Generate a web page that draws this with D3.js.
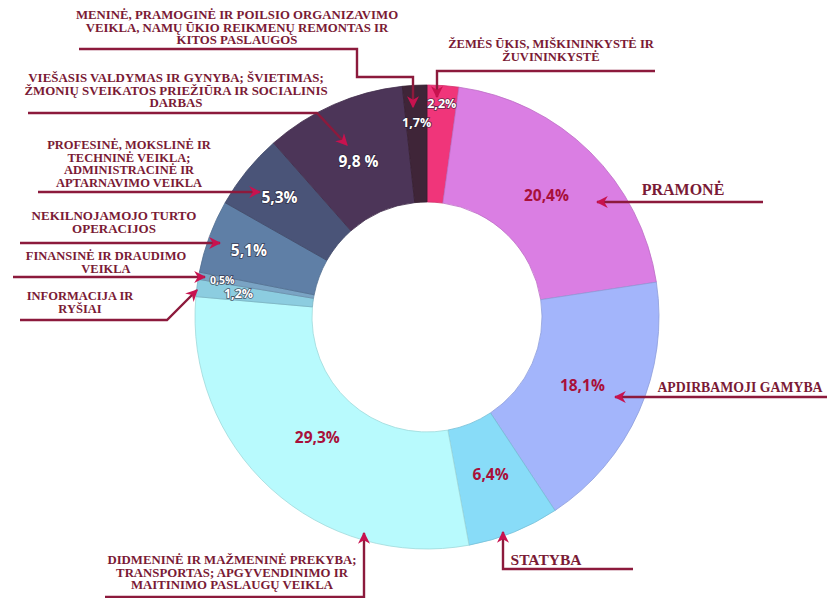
<!DOCTYPE html>
<html>
<head>
<meta charset="utf-8">
<script src="https://cdn.jsdelivr.net/npm/d3@7"></script>
<style>
  body { margin: 0; background: #fff; }
  .cat { font-family: "Liberation Serif", serif; font-weight: bold; fill: #7a1a35; }
  .pct { font-family: "Open Sans", sans-serif; font-weight: bold; }
</style>
</head>
<body>
<script>
var categories = [
  "ŽEMĖS ŪKIS, MIŠKININKYSTĖ IR|ŽUVININKYSTĖ",
  "PRAMONĖ",
  "APDIRBAMOJI GAMYBA",
  "STATYBA",
  "DIDMENINĖ IR MAŽMENINĖ PREKYBA;|TRANSPORTAS; APGYVENDINIMO IR|MAITINIMO PASLAUGŲ VEIKLA",
  "INFORMACIJA IR|RYŠIAI",
  "FINANSINĖ IR DRAUDIMO|VEIKLA",
  "NEKILNOJAMOJO TURTO|OPERACIJOS",
  "PROFESINĖ, MOKSLINĖ IR|TECHNINĖ VEIKLA;|ADMINISTRACINĖ IR|APTARNAVIMO VEIKLA",
  "VIEŠASIS VALDYMAS IR GYNYBA; ŠVIETIMAS;|ŽMONIŲ SVEIKATOS PRIEŽIŪRA IR SOCIALINIS|DARBAS",
  "MENINĖ, PRAMOGINĖ IR POILSIO ORGANIZAVIMO|VEIKLA, NAMŲ ŪKIO REIKMENŲ REMONTAS IR|KITOS PASLAUGOS"
];
var values = [2.2, 20.4, 18.1, 6.4, 29.3, 1.2, 0.5, 5.1, 5.3, 9.8, 1.7];
var pctLabels = ["2,2%", "20,4%", "18,1%", "6,4%", "29,3%", "1,2%", "0,5%", "5,1%", "5,3%", "9,8 %", "1,7%"];

var colors = ["#f0357a", "#da7ee3", "#a3b5fb", "#88dcf8", "#b8fafd", "#8ccde0",
              "#7aa4c4", "#5f7fa6", "#4a5478", "#4c3558", "#3f2538"];

// where each category's caption and arrow go
var notes = [
  {x: 551, y: 48, size: 12.6, lh: 12.6, path: [[655,71],[437,71],[437,97]]},
  {x: 683, y: 195, size: 16, lh: 12.6, path: [[763,202],[597,202]]},
  {x: 740, y: 392, size: 13.8, lh: 12.6, path: [[827,397],[615,397]]},
  {x: 546, y: 565, size: 15.5, lh: 12.6, path: [[633,569],[503,569],[503,532]]},
  {x: 232, y: 564, size: 12.8, lh: 12.6, path: [[105,597],[364,597],[364,533]]},
  {x: 80, y: 300, size: 12.5, lh: 12.6, path: [[20,320],[167,320],[197,290]]},
  {x: 106, y: 259.5, size: 12.5, lh: 13.2, path: [[13,277],[205,277]]},
  {x: 114, y: 220, size: 13, lh: 13.4, path: [[20,243],[220,243]]},
  {x: 129, y: 149, size: 12.5, lh: 12.6, path: [[38,192],[260,192]]},
  {x: 176, y: 82, size: 12.9, lh: 12.6, path: [[28,113],[317,113],[347,145]]},
  {x: 237, y: 19, size: 12.8, lh: 12.6, path: [[79,49],[357,49],[357,77],[413,77],[413,107]]}
];

var width = 827, height = 598;
var cx = 427, cy = 317, rOuter = 232, rInner = 115;

var svg = d3.select("body").append("svg").attr("width", width).attr("height", height);

var defs = svg.append("defs");
defs.append("marker").attr("id", "arrow")
  .attr("viewBox", "0 0 10 10").attr("refX", 9).attr("refY", 5)
  .attr("markerWidth", 5).attr("markerHeight", 5)
  .attr("markerUnits", "strokeWidth").attr("orient", "auto")
  .append("path").attr("d", "M0,0 L10,5 L0,10 L3,5 z").attr("fill", "#c8124f");

var pie = d3.pie().value(function(d){ return d; }).sort(null);
var arc = d3.arc().innerRadius(rInner).outerRadius(rOuter);
var arcs = pie(values);

var g = svg.append("g").attr("transform", "translate(" + cx + "," + cy + ")");

g.selectAll("path").data(arcs).enter()
  .append("path")
  .attr("d", arc)
  .attr("fill", function(d, i){ return colors[i]; })
  .attr("stroke", function(d, i){ return d3.color(colors[i]).darker(0.4); })
  .attr("stroke-width", 0.8);

// label radius: small slices push their label toward the outer edge
function labelRadius(v) {
  if (v < 1) return 208;
  if (v < 3) return v > 2 ? 214 : (v > 1.5 ? 195 : 190);
  if (v < 6) return 190;
  if (v > 25) return 163;
  return 170;
}
function labelSize(v) {
  if (v < 1) return "10.5px";
  if (v < 3) return "12.5px";
  return "15.5px";
}

g.selectAll("text").data(arcs).enter()
  .append("text")
  .attr("class", "pct")
  .attr("transform", function(d){
    var r = labelRadius(d.data);
    var a = (d.startAngle + d.endAngle) / 2;
    return "translate(" + (Math.sin(a) * r) + "," + (-Math.cos(a) * r) + ")";
  })
  .attr("text-anchor", "middle")
  .attr("dy", "0.35em")
  .attr("font-size", function(d){ return labelSize(d.data); })
  .attr("fill", function(d, i){
    return d3.hsl(colors[i]).l < 0.62 || d.data < 3 ? "#ffffff" : "#a8103a";
  })
  .attr("stroke", function(d, i){
    return d3.hsl(colors[i]).l < 0.62 || d.data < 3 ? "#2a2233" : "none";
  })
  .attr("stroke-width", 1.6)
  .attr("stroke-opacity", 0.7)
  .attr("paint-order", "stroke")
  .text(function(d, i){ return pctLabels[i]; });

var line = d3.line();

svg.selectAll("path.lead").data(notes).enter()
  .append("path")
  .attr("class", "lead")
  .attr("d", function(d){ return line(d.path); })
  .attr("fill", "none")
  .attr("stroke", "#8c1a3c")
  .attr("stroke-width", 2.4)
  .attr("marker-end", "url(#arrow)");

svg.selectAll("text.cat").data(categories).enter()
  .append("text")
  .attr("class", "cat")
  .attr("font-size", function(d, i){ return notes[i].size + "px"; })
  .attr("text-anchor", "middle")
  .each(function(d, i){
    var t = d3.select(this);
    d.split("|").forEach(function(s, k){
      t.append("tspan").attr("x", notes[i].x).attr("y", notes[i].y + k * notes[i].lh).text(s);
    });
  });
</script>
</body>
</html>
